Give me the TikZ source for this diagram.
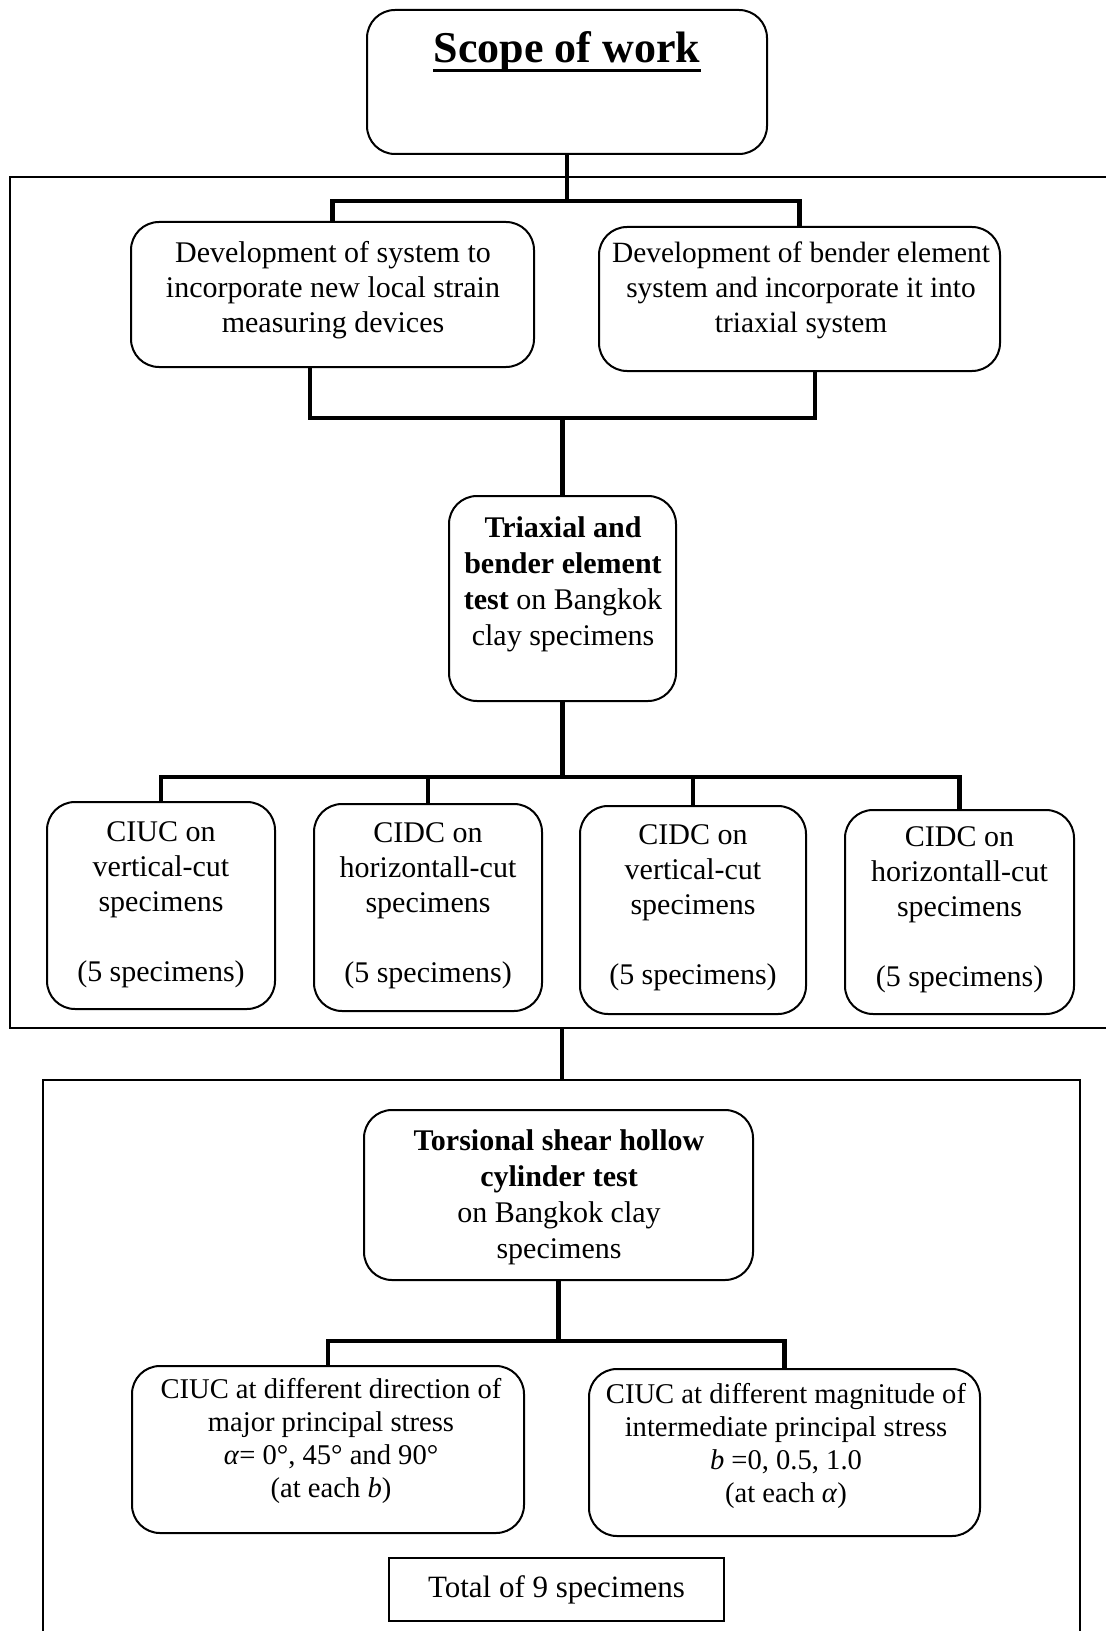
\documentclass[tikz,border=0pt]{standalone}
\usepackage{fontspec}
\setmainfont{Liberation Serif}
\begin{document}
\begin{tikzpicture}[x=0.5pt,y=-0.5pt,
  rbox/.style={draw, line width=1pt, rounded corners=14pt, inner sep=0pt},
  sbox/.style={draw, line width=1pt, inner sep=0pt},
  conn/.style={line width=2.2pt},
  framel/.style={line width=1pt},
  txt/.style={align=center, inner sep=0pt, font=\fontsize{15}{17.5}\selectfont},
  txtb/.style={align=center, inner sep=0pt, font=\fontsize{15}{18}\selectfont},
  txts/.style={align=center, inner sep=0pt, font=\fontsize{14.3}{16.6}\selectfont}]
\useasboundingbox (0,0) rectangle (1106,1631);

% frames
\draw[framel] (1106,177) -- (10,177) -- (10,1028) -- (1106,1028);
\draw[framel] (43,1631) -- (43,1080) -- (1080,1080) -- (1080,1631);

% boxes
\node[rbox, minimum width=200pt, minimum height=72pt] (scope) at (567,82) {};
\node[inner sep=0pt, font=\fontsize{22}{26}\selectfont\bfseries] (scopeT) at (567,52) {Scope of work};
\draw[line width=1.4pt] ([yshift=-4pt]scopeT.base west) -- ([yshift=-4pt]scopeT.base east);

\node[rbox, minimum width=201.5pt, minimum height=72.5pt] (A) at (332.5,294.5) {};
\node[txt] (At) at (333,290) {Development of system to\\incorporate new local strain\\measuring devices};
\node[rbox, minimum width=200.5pt, minimum height=72pt] (B) at (799.5,299) {};
\node[txt, font=\fontsize{14.7}{17.5}\selectfont] (Bt) at (801,290) {Development of bender element\\system and incorporate it into\\triaxial system};

\node[rbox, minimum width=113.5pt, minimum height=102.5pt] (tri) at (562.5,598.5) {};
\node[txtb] (trit) at (563,584) {\textbf{Triaxial and}\\\textbf{bender element}\\\textbf{test} on Bangkok\\clay specimens};

\node[rbox, minimum width=114pt, minimum height=103.5pt] (c1) at (161,905.5) {};
\node[txt] (c1t) at (161,905) {CIUC on\\vertical-cut\\specimens\\[17.5pt](5 specimens)};
\node[rbox, minimum width=114pt, minimum height=103.5pt] (c2) at (428,907.5) {};
\node[txt] (c2t) at (428,906) {CIDC on\\horizontall-cut\\specimens\\[17.5pt](5 specimens)};
\node[rbox, minimum width=113pt, minimum height=104pt] (c3) at (693,910) {};
\node[txt] (c3t) at (693,908) {CIDC on\\vertical-cut\\specimens\\[17.5pt](5 specimens)};
\node[rbox, minimum width=114.5pt, minimum height=102pt] (c4) at (959.5,912) {};
\node[txt] (c4t) at (959.5,910) {CIDC on\\horizontall-cut\\specimens\\[17.5pt](5 specimens)};

\node[rbox, minimum width=194.5pt, minimum height=85pt] (tor) at (558.5,1195) {};
\node[txtb] (tort) at (559,1197) {\textbf{Torsional shear hollow}\\\textbf{cylinder test}\\on Bangkok clay\\specimens};

\node[rbox, minimum width=196pt, minimum height=83.5pt] (L) at (328,1449.5) {};
\node[txts] (Lt) at (331,1441) {CIUC at different direction of\\major principal stress\\\textit{α}= 0°, 45° and 90°\\(at each \textit{b})};
\node[rbox, minimum width=195.5pt, minimum height=83.5pt] (R) at (784.5,1452.5) {};
\node[txts] (Rt) at (786,1446) {CIUC at different magnitude of\\intermediate principal stress\\\textit{b} =0, 0.5, 1.0\\(at each \textit{α})};

\node[sbox, minimum width=167.5pt, minimum height=31.5pt, font=\fontsize{15.5}{18}\selectfont] (tot) at (556.5,1589.5) {Total of 9 specimens};

% connectors
\coordinate (j1) at (567,201);
\draw[conn] (scope.south) -- (j1);
\draw[conn] (A.north) |- (j1) -| (B.north);

\coordinate (j2) at (562.5,418);
\draw[conn] ([xshift=-11.25pt]A.south) |- (j2) -| ([xshift=7.75pt]B.south);
\draw[conn] (j2) -- (tri.north);

\coordinate (j3) at (562.5,777);
\draw[conn] (tri.south) -- (j3);
\draw[conn] (c1.north) |- (j3) -| (c4.north);
\draw[conn] (c2.north) -- (c2.north |- j3);
\draw[conn] (c3.north) -- (c3.north |- j3);

\coordinate (f1) at (562,1028);
\coordinate (f2) at (562,1080);
\draw[conn] (f1) -- (f2);

\coordinate (j4) at (558.5,1341);
\draw[conn] (tor.south) -- (j4);
\draw[conn] (L.north) |- (j4) -| (R.north);
\end{tikzpicture}
\end{document}
